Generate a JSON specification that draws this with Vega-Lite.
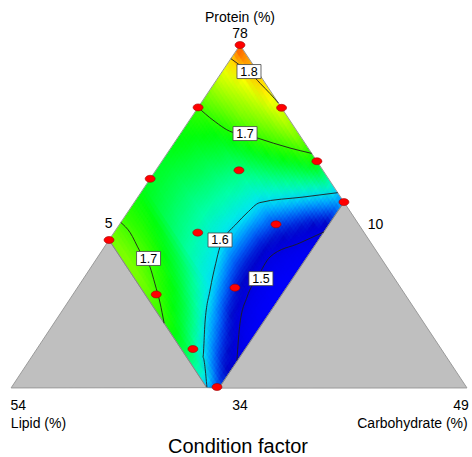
{
"$schema": "https://vega.github.io/schema/vega-lite/v6.json",
"width": 458, "height": 343,
"autosize": {"type": "none"},
"padding": {"left": 11, "top": 45, "right": 3, "bottom": 69},
"background": "white",
"config": {"view": {"stroke": null}},
"datasets": {
"grid": [
{"l":0.025,"c":0.025,"v":1.850},{"l":0.025,"c":0.075,"v":1.830},{"l":0.025,"c":0.125,"v":1.817},{"l":0.025,"c":0.175,"v":1.804},{"l":0.025,"c":0.225,"v":1.792},{"l":0.025,"c":0.275,"v":1.782},{"l":0.025,"c":0.325,"v":1.771},{"l":0.025,"c":0.375,"v":1.760},{"l":0.025,"c":0.425,"v":1.749},{"l":0.025,"c":0.475,"v":1.739},{"l":0.025,"c":0.525,"v":1.728},{"l":0.025,"c":0.575,"v":1.717},{"l":0.025,"c":0.625,"v":1.706},{"l":0.025,"c":0.675,"v":1.692},{"l":0.025,"c":0.725,"v":1.673},{"l":0.025,"c":0.775,"v":1.653},{"l":0.025,"c":0.825,"v":1.634},{"l":0.025,"c":0.875,"v":1.615},{"l":0.025,"c":0.925,"v":1.595},{"l":0.025,"c":0.975,"v":1.575},
{"l":0.075,"c":0.025,"v":1.793},{"l":0.075,"c":0.075,"v":1.784},{"l":0.075,"c":0.125,"v":1.775},{"l":0.075,"c":0.175,"v":1.767},{"l":0.075,"c":0.225,"v":1.758},{"l":0.075,"c":0.275,"v":1.749},{"l":0.075,"c":0.325,"v":1.741},{"l":0.075,"c":0.375,"v":1.732},{"l":0.075,"c":0.425,"v":1.724},{"l":0.075,"c":0.475,"v":1.715},{"l":0.075,"c":0.525,"v":1.706},{"l":0.075,"c":0.575,"v":1.695},{"l":0.075,"c":0.625,"v":1.679},{"l":0.075,"c":0.675,"v":1.662},{"l":0.075,"c":0.725,"v":1.646},{"l":0.075,"c":0.775,"v":1.629},{"l":0.075,"c":0.825,"v":1.612},{"l":0.075,"c":0.875,"v":1.594},{"l":0.075,"c":0.925,"v":1.573},{"l":0.075,"c":0.975,"v":1.551},
{"l":0.125,"c":0.025,"v":1.766},{"l":0.125,"c":0.075,"v":1.759},{"l":0.125,"c":0.125,"v":1.751},{"l":0.125,"c":0.175,"v":1.744},{"l":0.125,"c":0.225,"v":1.736},{"l":0.125,"c":0.275,"v":1.729},{"l":0.125,"c":0.325,"v":1.721},{"l":0.125,"c":0.375,"v":1.714},{"l":0.125,"c":0.425,"v":1.706},{"l":0.125,"c":0.475,"v":1.698},{"l":0.125,"c":0.525,"v":1.683},{"l":0.125,"c":0.575,"v":1.669},{"l":0.125,"c":0.625,"v":1.654},{"l":0.125,"c":0.675,"v":1.639},{"l":0.125,"c":0.725,"v":1.625},{"l":0.125,"c":0.775,"v":1.610},{"l":0.125,"c":0.825,"v":1.593},{"l":0.125,"c":0.875,"v":1.571},{"l":0.125,"c":0.925,"v":1.549},{"l":0.125,"c":0.975,"v":1.526},
{"l":0.175,"c":0.025,"v":1.747},{"l":0.175,"c":0.075,"v":1.740},{"l":0.175,"c":0.125,"v":1.733},{"l":0.175,"c":0.175,"v":1.726},{"l":0.175,"c":0.225,"v":1.720},{"l":0.175,"c":0.275,"v":1.713},{"l":0.175,"c":0.325,"v":1.706},{"l":0.175,"c":0.375,"v":1.698},{"l":0.175,"c":0.425,"v":1.686},{"l":0.175,"c":0.475,"v":1.673},{"l":0.175,"c":0.525,"v":1.660},{"l":0.175,"c":0.575,"v":1.647},{"l":0.175,"c":0.625,"v":1.634},{"l":0.175,"c":0.675,"v":1.621},{"l":0.175,"c":0.725,"v":1.608},{"l":0.175,"c":0.775,"v":1.592},{"l":0.175,"c":0.825,"v":1.570},{"l":0.175,"c":0.875,"v":1.548},{"l":0.175,"c":0.925,"v":1.526},{"l":0.175,"c":0.975,"v":1.504},
{"l":0.225,"c":0.025,"v":1.727},{"l":0.225,"c":0.075,"v":1.721},{"l":0.225,"c":0.125,"v":1.715},{"l":0.225,"c":0.175,"v":1.709},{"l":0.225,"c":0.225,"v":1.703},{"l":0.225,"c":0.275,"v":1.695},{"l":0.225,"c":0.325,"v":1.684},{"l":0.225,"c":0.375,"v":1.673},{"l":0.225,"c":0.425,"v":1.662},{"l":0.225,"c":0.475,"v":1.651},{"l":0.225,"c":0.525,"v":1.640},{"l":0.225,"c":0.575,"v":1.629},{"l":0.225,"c":0.625,"v":1.618},{"l":0.225,"c":0.675,"v":1.607},{"l":0.225,"c":0.725,"v":1.592},{"l":0.225,"c":0.775,"v":1.572},{"l":0.225,"c":0.825,"v":1.551},{"l":0.225,"c":0.875,"v":1.531},{"l":0.225,"c":0.925,"v":1.510},{"l":0.225,"c":0.975,"v":1.490},
{"l":0.275,"c":0.025,"v":1.712},{"l":0.275,"c":0.075,"v":1.706},{"l":0.275,"c":0.125,"v":1.699},{"l":0.275,"c":0.175,"v":1.690},{"l":0.275,"c":0.225,"v":1.680},{"l":0.275,"c":0.275,"v":1.671},{"l":0.275,"c":0.325,"v":1.662},{"l":0.275,"c":0.375,"v":1.652},{"l":0.275,"c":0.425,"v":1.643},{"l":0.275,"c":0.475,"v":1.633},{"l":0.275,"c":0.525,"v":1.624},{"l":0.275,"c":0.575,"v":1.615},{"l":0.275,"c":0.625,"v":1.605},{"l":0.275,"c":0.675,"v":1.592},{"l":0.275,"c":0.725,"v":1.573},{"l":0.275,"c":0.775,"v":1.554},{"l":0.275,"c":0.825,"v":1.535},{"l":0.275,"c":0.875,"v":1.516},{"l":0.275,"c":0.925,"v":1.497},{"l":0.275,"c":0.975,"v":1.476},
{"l":0.325,"c":0.025,"v":1.696},{"l":0.325,"c":0.075,"v":1.688},{"l":0.325,"c":0.125,"v":1.679},{"l":0.325,"c":0.175,"v":1.671},{"l":0.325,"c":0.225,"v":1.663},{"l":0.325,"c":0.275,"v":1.654},{"l":0.325,"c":0.325,"v":1.646},{"l":0.325,"c":0.375,"v":1.638},{"l":0.325,"c":0.425,"v":1.629},{"l":0.325,"c":0.475,"v":1.621},{"l":0.325,"c":0.525,"v":1.613},{"l":0.325,"c":0.575,"v":1.604},{"l":0.325,"c":0.625,"v":1.591},{"l":0.325,"c":0.675,"v":1.574},{"l":0.325,"c":0.725,"v":1.556},{"l":0.325,"c":0.775,"v":1.539},{"l":0.325,"c":0.825,"v":1.522},{"l":0.325,"c":0.875,"v":1.504},{"l":0.325,"c":0.925,"v":1.485},{"l":0.325,"c":0.975,"v":1.465},
{"l":0.375,"c":0.025,"v":1.686},{"l":0.375,"c":0.075,"v":1.678},{"l":0.375,"c":0.125,"v":1.671},{"l":0.375,"c":0.175,"v":1.663},{"l":0.375,"c":0.225,"v":1.655},{"l":0.375,"c":0.275,"v":1.648},{"l":0.375,"c":0.325,"v":1.640},{"l":0.375,"c":0.375,"v":1.632},{"l":0.375,"c":0.425,"v":1.625},{"l":0.375,"c":0.475,"v":1.617},{"l":0.375,"c":0.525,"v":1.609},{"l":0.375,"c":0.575,"v":1.602},{"l":0.375,"c":0.625,"v":1.585},{"l":0.375,"c":0.675,"v":1.567},{"l":0.375,"c":0.725,"v":1.549},{"l":0.375,"c":0.775,"v":1.530},{"l":0.375,"c":0.825,"v":1.512},{"l":0.375,"c":0.875,"v":1.493},{"l":0.375,"c":0.925,"v":1.475},{"l":0.375,"c":0.975,"v":1.457},
{"l":0.425,"c":0.025,"v":1.676},{"l":0.425,"c":0.075,"v":1.669},{"l":0.425,"c":0.125,"v":1.662},{"l":0.425,"c":0.175,"v":1.655},{"l":0.425,"c":0.225,"v":1.648},{"l":0.425,"c":0.275,"v":1.641},{"l":0.425,"c":0.325,"v":1.634},{"l":0.425,"c":0.375,"v":1.627},{"l":0.425,"c":0.425,"v":1.620},{"l":0.425,"c":0.475,"v":1.613},{"l":0.425,"c":0.525,"v":1.606},{"l":0.425,"c":0.575,"v":1.598},{"l":0.425,"c":0.625,"v":1.579},{"l":0.425,"c":0.675,"v":1.559},{"l":0.425,"c":0.725,"v":1.540},{"l":0.425,"c":0.775,"v":1.521},{"l":0.425,"c":0.825,"v":1.502},{"l":0.425,"c":0.875,"v":1.485},{"l":0.425,"c":0.925,"v":1.468},{"l":0.425,"c":0.975,"v":1.451},
{"l":0.475,"c":0.025,"v":1.672},{"l":0.475,"c":0.075,"v":1.665},{"l":0.475,"c":0.125,"v":1.658},{"l":0.475,"c":0.175,"v":1.651},{"l":0.475,"c":0.225,"v":1.645},{"l":0.475,"c":0.275,"v":1.638},{"l":0.475,"c":0.325,"v":1.631},{"l":0.475,"c":0.375,"v":1.624},{"l":0.475,"c":0.425,"v":1.618},{"l":0.475,"c":0.475,"v":1.611},{"l":0.475,"c":0.525,"v":1.604},{"l":0.475,"c":0.575,"v":1.593},{"l":0.475,"c":0.625,"v":1.575},{"l":0.475,"c":0.675,"v":1.557},{"l":0.475,"c":0.725,"v":1.538},{"l":0.475,"c":0.775,"v":1.520},{"l":0.475,"c":0.825,"v":1.502},{"l":0.475,"c":0.875,"v":1.484},{"l":0.475,"c":0.925,"v":1.466},{"l":0.475,"c":0.975,"v":1.449},
{"l":0.525,"c":0.025,"v":1.667},{"l":0.525,"c":0.075,"v":1.660},{"l":0.525,"c":0.125,"v":1.654},{"l":0.525,"c":0.175,"v":1.648},{"l":0.525,"c":0.225,"v":1.641},{"l":0.525,"c":0.275,"v":1.635},{"l":0.525,"c":0.325,"v":1.629},{"l":0.525,"c":0.375,"v":1.622},{"l":0.525,"c":0.425,"v":1.616},{"l":0.525,"c":0.475,"v":1.609},{"l":0.525,"c":0.525,"v":1.603},{"l":0.525,"c":0.575,"v":1.591},{"l":0.525,"c":0.625,"v":1.573},{"l":0.525,"c":0.675,"v":1.555},{"l":0.525,"c":0.725,"v":1.537},{"l":0.525,"c":0.775,"v":1.520},{"l":0.525,"c":0.825,"v":1.502},{"l":0.525,"c":0.875,"v":1.484},{"l":0.525,"c":0.925,"v":1.466},{"l":0.525,"c":0.975,"v":1.449},
{"l":0.575,"c":0.025,"v":1.662},{"l":0.575,"c":0.075,"v":1.656},{"l":0.575,"c":0.125,"v":1.650},{"l":0.575,"c":0.175,"v":1.644},{"l":0.575,"c":0.225,"v":1.638},{"l":0.575,"c":0.275,"v":1.632},{"l":0.575,"c":0.325,"v":1.626},{"l":0.575,"c":0.375,"v":1.620},{"l":0.575,"c":0.425,"v":1.614},{"l":0.575,"c":0.475,"v":1.609},{"l":0.575,"c":0.525,"v":1.603},{"l":0.575,"c":0.575,"v":1.590},{"l":0.575,"c":0.625,"v":1.573},{"l":0.575,"c":0.675,"v":1.556},{"l":0.575,"c":0.725,"v":1.539},{"l":0.575,"c":0.775,"v":1.522},{"l":0.575,"c":0.825,"v":1.504},{"l":0.575,"c":0.875,"v":1.487},{"l":0.575,"c":0.925,"v":1.469},{"l":0.575,"c":0.975,"v":1.452},
{"l":0.625,"c":0.025,"v":1.660},{"l":0.625,"c":0.075,"v":1.655},{"l":0.625,"c":0.125,"v":1.649},{"l":0.625,"c":0.175,"v":1.644},{"l":0.625,"c":0.225,"v":1.638},{"l":0.625,"c":0.275,"v":1.633},{"l":0.625,"c":0.325,"v":1.627},{"l":0.625,"c":0.375,"v":1.622},{"l":0.625,"c":0.425,"v":1.616},{"l":0.625,"c":0.475,"v":1.611},{"l":0.625,"c":0.525,"v":1.605},{"l":0.625,"c":0.575,"v":1.600},{"l":0.625,"c":0.625,"v":1.581},{"l":0.625,"c":0.675,"v":1.563},{"l":0.625,"c":0.725,"v":1.545},{"l":0.625,"c":0.775,"v":1.527},{"l":0.625,"c":0.825,"v":1.509},{"l":0.625,"c":0.875,"v":1.492},{"l":0.625,"c":0.925,"v":1.475},{"l":0.625,"c":0.975,"v":1.458},
{"l":0.675,"c":0.025,"v":1.660},{"l":0.675,"c":0.075,"v":1.655},{"l":0.675,"c":0.125,"v":1.650},{"l":0.675,"c":0.175,"v":1.645},{"l":0.675,"c":0.225,"v":1.639},{"l":0.675,"c":0.275,"v":1.634},{"l":0.675,"c":0.325,"v":1.629},{"l":0.675,"c":0.375,"v":1.624},{"l":0.675,"c":0.425,"v":1.618},{"l":0.675,"c":0.475,"v":1.613},{"l":0.675,"c":0.525,"v":1.608},{"l":0.675,"c":0.575,"v":1.603},{"l":0.675,"c":0.625,"v":1.592},{"l":0.675,"c":0.675,"v":1.573},{"l":0.675,"c":0.725,"v":1.555},{"l":0.675,"c":0.775,"v":1.536},{"l":0.675,"c":0.825,"v":1.518},{"l":0.675,"c":0.875,"v":1.499},{"l":0.675,"c":0.925,"v":1.484},{"l":0.675,"c":0.975,"v":1.468},
{"l":0.725,"c":0.025,"v":1.664},{"l":0.725,"c":0.075,"v":1.659},{"l":0.725,"c":0.125,"v":1.654},{"l":0.725,"c":0.175,"v":1.648},{"l":0.725,"c":0.225,"v":1.643},{"l":0.725,"c":0.275,"v":1.638},{"l":0.725,"c":0.325,"v":1.633},{"l":0.725,"c":0.375,"v":1.627},{"l":0.725,"c":0.425,"v":1.622},{"l":0.725,"c":0.475,"v":1.617},{"l":0.725,"c":0.525,"v":1.611},{"l":0.725,"c":0.575,"v":1.606},{"l":0.725,"c":0.625,"v":1.601},{"l":0.725,"c":0.675,"v":1.584},{"l":0.725,"c":0.725,"v":1.566},{"l":0.725,"c":0.775,"v":1.547},{"l":0.725,"c":0.825,"v":1.529},{"l":0.725,"c":0.875,"v":1.511},{"l":0.725,"c":0.925,"v":1.495},{"l":0.725,"c":0.975,"v":1.482},
{"l":0.775,"c":0.025,"v":1.675},{"l":0.775,"c":0.075,"v":1.674},{"l":0.775,"c":0.125,"v":1.672},{"l":0.775,"c":0.175,"v":1.669},{"l":0.775,"c":0.225,"v":1.665},{"l":0.775,"c":0.275,"v":1.660},{"l":0.775,"c":0.325,"v":1.654},{"l":0.775,"c":0.375,"v":1.648},{"l":0.775,"c":0.425,"v":1.641},{"l":0.775,"c":0.475,"v":1.634},{"l":0.775,"c":0.525,"v":1.626},{"l":0.775,"c":0.575,"v":1.618},{"l":0.775,"c":0.625,"v":1.609},{"l":0.775,"c":0.675,"v":1.598},{"l":0.775,"c":0.725,"v":1.580},{"l":0.775,"c":0.775,"v":1.563},{"l":0.775,"c":0.825,"v":1.546},{"l":0.775,"c":0.875,"v":1.529},{"l":0.775,"c":0.925,"v":1.512},{"l":0.775,"c":0.975,"v":1.495},
{"l":0.825,"c":0.025,"v":1.686},{"l":0.825,"c":0.075,"v":1.686},{"l":0.825,"c":0.125,"v":1.685},{"l":0.825,"c":0.175,"v":1.683},{"l":0.825,"c":0.225,"v":1.680},{"l":0.825,"c":0.275,"v":1.676},{"l":0.825,"c":0.325,"v":1.670},{"l":0.825,"c":0.375,"v":1.664},{"l":0.825,"c":0.425,"v":1.657},{"l":0.825,"c":0.475,"v":1.649},{"l":0.825,"c":0.525,"v":1.640},{"l":0.825,"c":0.575,"v":1.631},{"l":0.825,"c":0.625,"v":1.621},{"l":0.825,"c":0.675,"v":1.611},{"l":0.825,"c":0.725,"v":1.594},{"l":0.825,"c":0.775,"v":1.577},{"l":0.825,"c":0.825,"v":1.560},{"l":0.825,"c":0.875,"v":1.543},{"l":0.825,"c":0.925,"v":1.527},{"l":0.825,"c":0.975,"v":1.512},
{"l":0.875,"c":0.025,"v":1.696},{"l":0.875,"c":0.075,"v":1.697},{"l":0.875,"c":0.125,"v":1.698},{"l":0.875,"c":0.175,"v":1.698},{"l":0.875,"c":0.225,"v":1.697},{"l":0.875,"c":0.275,"v":1.694},{"l":0.875,"c":0.325,"v":1.689},{"l":0.875,"c":0.375,"v":1.683},{"l":0.875,"c":0.425,"v":1.675},{"l":0.875,"c":0.475,"v":1.667},{"l":0.875,"c":0.525,"v":1.658},{"l":0.875,"c":0.575,"v":1.648},{"l":0.875,"c":0.625,"v":1.637},{"l":0.875,"c":0.675,"v":1.625},{"l":0.875,"c":0.725,"v":1.612},{"l":0.875,"c":0.775,"v":1.594},{"l":0.875,"c":0.825,"v":1.575},{"l":0.875,"c":0.875,"v":1.557},{"l":0.875,"c":0.925,"v":1.539},{"l":0.875,"c":0.975,"v":1.525},
{"l":0.925,"c":0.025,"v":1.706},{"l":0.925,"c":0.075,"v":1.707},{"l":0.925,"c":0.125,"v":1.708},{"l":0.925,"c":0.175,"v":1.708},{"l":0.925,"c":0.225,"v":1.707},{"l":0.925,"c":0.275,"v":1.704},{"l":0.925,"c":0.325,"v":1.701},{"l":0.925,"c":0.375,"v":1.695},{"l":0.925,"c":0.425,"v":1.688},{"l":0.925,"c":0.475,"v":1.680},{"l":0.925,"c":0.525,"v":1.671},{"l":0.925,"c":0.575,"v":1.661},{"l":0.925,"c":0.625,"v":1.650},{"l":0.925,"c":0.675,"v":1.638},{"l":0.925,"c":0.725,"v":1.625},{"l":0.925,"c":0.775,"v":1.611},{"l":0.925,"c":0.825,"v":1.596},{"l":0.925,"c":0.875,"v":1.578},{"l":0.925,"c":0.925,"v":1.561},{"l":0.925,"c":0.975,"v":1.544},
{"l":0.975,"c":0.025,"v":1.716},{"l":0.975,"c":0.075,"v":1.718},{"l":0.975,"c":0.125,"v":1.719},{"l":0.975,"c":0.175,"v":1.719},{"l":0.975,"c":0.225,"v":1.718},{"l":0.975,"c":0.275,"v":1.716},{"l":0.975,"c":0.325,"v":1.713},{"l":0.975,"c":0.375,"v":1.709},{"l":0.975,"c":0.425,"v":1.704},{"l":0.975,"c":0.475,"v":1.698},{"l":0.975,"c":0.525,"v":1.689},{"l":0.975,"c":0.575,"v":1.679},{"l":0.975,"c":0.625,"v":1.668},{"l":0.975,"c":0.675,"v":1.657},{"l":0.975,"c":0.725,"v":1.646},{"l":0.975,"c":0.775,"v":1.635},{"l":0.975,"c":0.825,"v":1.623},{"l":0.975,"c":0.875,"v":1.609},{"l":0.975,"c":0.925,"v":1.592},{"l":0.975,"c":0.975,"v":1.568}
],
"masks": [
{"k":"a","o":1,"l":-0.3,"c":0},{"k":"a","o":2,"l":2.2,"c":0},{"k":"a","o":3,"l":2.2,"c":-0.7},{"k":"a","o":4,"l":-0.3,"c":-0.7},
{"k":"b","o":1,"l":0,"c":-0.3},{"k":"b","o":2,"l":0,"c":2.6},{"k":"b","o":3,"l":-0.7,"c":2.6},{"k":"b","o":4,"l":-0.7,"c":-0.3}
],
"shapes": [
{"k":"left","o":1,"l":1.753,"c":0.007},{"k":"left","o":2,"l":1,"c":0},{"k":"left","o":3,"l":1,"c":0.94},
{"k":"right","o":1,"l":0,"c":1},{"k":"right","o":2,"l":0,"c":2.183},{"k":"right","o":3,"l":0.954,"c":1}
],
"outline": [
{"o":1,"l":0,"c":0},{"o":2,"l":1,"c":0},{"o":3,"l":1,"c":0.94},{"o":4,"l":0.954,"c":1},{"o":5,"l":0,"c":1}
],
"contours": [
{"k":"1.8","o":1,"l":0.07,"c":0},{"k":"1.8","o":2,"l":0.05,"c":0.07},{"k":"1.8","o":3,"l":0.033,"c":0.128},{"k":"1.8","o":4,"l":0.02,"c":0.22},{"k":"1.8","o":5,"l":0.008,"c":0.3},{"k":"1.8","o":6,"l":0,"c":0.37},
{"k":"1.7a","o":1,"l":0.32,"c":0},{"k":"1.7a","o":2,"l":0.295,"c":0.112},{"k":"1.7a","o":3,"l":0.243,"c":0.258},{"k":"1.7a","o":4,"l":0.206,"c":0.31},{"k":"1.7a","o":5,"l":0.171,"c":0.379},{"k":"1.7a","o":6,"l":0.07,"c":0.569},{"k":"1.7a","o":7,"l":0,"c":0.69},
{"k":"1.7b","o":1,"l":0.91,"c":0},{"k":"1.7b","o":2,"l":0.9,"c":0.075},{"k":"1.7b","o":3,"l":0.91,"c":0.186},{"k":"1.7b","o":4,"l":0.911,"c":0.282},{"k":"1.7b","o":5,"l":0.935,"c":0.36},{"k":"1.7b","o":6,"l":0.964,"c":0.446},{"k":"1.7b","o":7,"l":1,"c":0.53},
{"k":"1.6","o":1,"l":0,"c":0.94},{"k":"1.6","o":2,"l":0.145,"c":0.788},{"k":"1.6","o":3,"l":0.325,"c":0.6},{"k":"1.6","o":4,"l":0.4,"c":0.572},{"k":"1.6","o":5,"l":0.465,"c":0.557},{"k":"1.6","o":6,"l":0.56,"c":0.545},{"k":"1.6","o":7,"l":0.591,"c":0.552},{"k":"1.6","o":8,"l":0.65,"c":0.585},{"k":"1.6","o":9,"l":0.739,"c":0.643},{"k":"1.6","o":10,"l":0.842,"c":0.724},{"k":"1.6","o":11,"l":0.937,"c":0.824},{"k":"1.6","o":12,"l":0.998,"c":0.939},
{"k":"1.5","o":1,"l":0.153,"c":1},{"k":"1.5","o":2,"l":0.273,"c":0.921},{"k":"1.5","o":3,"l":0.424,"c":0.823},{"k":"1.5","o":4,"l":0.52,"c":0.828},{"k":"1.5","o":5,"l":0.615,"c":0.842},{"k":"1.5","o":6,"l":0.708,"c":0.892},{"k":"1.5","o":7,"l":0.814,"c":0.996}
],
"boxes": [
{"lab":"1.8","l":0.033,"c":0.128},{"lab":"1.7","l":0.206,"c":0.308},{"lab":"1.7","l":0.895,"c":0.248},{"lab":"1.6","l":0.573,"c":0.53},{"lab":"1.5","l":0.514,"c":0.849}
],
"design": [
{"l":0,"c":0},{"l":0.32,"c":0},{"l":0.686,"c":0},{"l":1,"c":0},{"l":0,"c":0.4},{"l":0,"c":0.74},{"l":0,"c":1},{"l":0.323,"c":0.397},{"l":0.64,"c":0.4},{"l":0.318,"c":0.747},{"l":0.637,"c":0.754},{"l":0.957,"c":0.4},{"l":0.955,"c":0.75},{"l":0.959,"c":0.987}
],
"labels": [
{"label":"Protein (%)","x":0.5,"y":1.0787},{"label":"78","x":0.5,"y":1.032},{"label":"5","x":0.213,"y":0.477},{"label":"10","x":0.796,"y":0.475},{"label":"54","x":0.016,"y":-0.0525},{"label":"Lipid (%)","x":0.06,"y":-0.105},{"label":"34","x":0.5,"y":-0.0525},{"label":"49","x":0.9825,"y":-0.0525},{"label":"Carbohydrate (%)","x":0.8766,"y":-0.105}
],
"title": [
{"label":"Condition factor","x":0.4956,"y":-0.172}
]
},
"encoding": {
"x": {"field":"x","type":"quantitative","scale":{"domain":[0,1],"nice":false,"zero":false},"axis":null},
"y": {"field":"y","type":"quantitative","scale":{"domain":[0,1],"nice":false,"zero":false},"axis":null}
},
"layer": [
{"data":{"name":"grid"},"transform":[{"calculate":"0.5 - 0.286*datum.l + 0.227*datum.c","as":"x"},{"calculate":"1 - 0.5685*datum.l - 0.458*datum.c","as":"y"}],
"mark":{"type":"point","shape":"M0.675,-8.8L5.875,-0.95L-0.675,8.8L-5.875,0.95Z","size":4.5,"filled":true,"opacity":1,"strokeWidth":0,"clip":true},
"encoding":{"color":{"field":"v","type":"quantitative","legend":null,"scale":{"interpolate":"rgb","domain":[1.44,1.475,1.5,1.525,1.545,1.565,1.585,1.6,1.62,1.645,1.67,1.695,1.72,1.75,1.775,1.8,1.835,1.87],"range":["#0000ff","#0000f4","#0000e8","#0008c8","#0038e8","#0078ff","#00b8ff","#00e8f8","#00ffb0","#00ff58","#00ff10","#30ff00","#80ff00","#c8ff00","#ffff00","#ffd000","#ff9000","#ff4800"]}}}},
{"data":{"name":"grid"},"transform":[{"calculate":"0.5 - 0.286*(datum.l-0.0167) + 0.227*(datum.c-0.0167)","as":"x"},{"calculate":"1 - 0.5685*(datum.l-0.0167) - 0.458*(datum.c-0.0167)","as":"y"}],
"mark":{"type":"point","shape":"M0.675,-8.8L5.875,-0.95L-0.675,8.8L-5.875,0.95Z","size":4.5,"filled":true,"opacity":0.5,"strokeWidth":0,"clip":true},
"encoding":{"color":{"field":"v","type":"quantitative","legend":null}}},
{"data":{"name":"grid"},"transform":[{"calculate":"0.5 - 0.286*(datum.l+0.0167) + 0.227*(datum.c+0.0167)","as":"x"},{"calculate":"1 - 0.5685*(datum.l+0.0167) - 0.458*(datum.c+0.0167)","as":"y"}],
"mark":{"type":"point","shape":"M0.675,-8.8L5.875,-0.95L-0.675,8.8L-5.875,0.95Z","size":4.5,"filled":true,"opacity":0.3333,"strokeWidth":0,"clip":true},
"encoding":{"color":{"field":"v","type":"quantitative","legend":null}}},
{"data":{"name":"grid"},"transform":[{"calculate":"0.5 - 0.286*(datum.l-0.0167) + 0.227*(datum.c+0.0167)","as":"x"},{"calculate":"1 - 0.5685*(datum.l-0.0167) - 0.458*(datum.c+0.0167)","as":"y"}],
"mark":{"type":"point","shape":"M0.675,-8.8L5.875,-0.95L-0.675,8.8L-5.875,0.95Z","size":4.5,"filled":true,"opacity":0.25,"strokeWidth":0,"clip":true},
"encoding":{"color":{"field":"v","type":"quantitative","legend":null}}},
{"data":{"name":"grid"},"transform":[{"calculate":"0.5 - 0.286*(datum.l+0.0167) + 0.227*(datum.c-0.0167)","as":"x"},{"calculate":"1 - 0.5685*(datum.l+0.0167) - 0.458*(datum.c-0.0167)","as":"y"}],
"mark":{"type":"point","shape":"M0.675,-8.8L5.875,-0.95L-0.675,8.8L-5.875,0.95Z","size":4.5,"filled":true,"opacity":0.2,"strokeWidth":0,"clip":true},
"encoding":{"color":{"field":"v","type":"quantitative","legend":null}}},
{"data":{"name":"grid"},"transform":[{"calculate":"0.5 - 0.286*(datum.l-0.0167) + 0.227*datum.c","as":"x"},{"calculate":"1 - 0.5685*(datum.l-0.0167) - 0.458*datum.c","as":"y"}],
"mark":{"type":"point","shape":"M0.675,-8.8L5.875,-0.95L-0.675,8.8L-5.875,0.95Z","size":4.5,"filled":true,"opacity":0.1667,"strokeWidth":0,"clip":true},
"encoding":{"color":{"field":"v","type":"quantitative","legend":null}}},
{"data":{"name":"grid"},"transform":[{"calculate":"0.5 - 0.286*(datum.l+0.0167) + 0.227*datum.c","as":"x"},{"calculate":"1 - 0.5685*(datum.l+0.0167) - 0.458*datum.c","as":"y"}],
"mark":{"type":"point","shape":"M0.675,-8.8L5.875,-0.95L-0.675,8.8L-5.875,0.95Z","size":4.5,"filled":true,"opacity":0.1429,"strokeWidth":0,"clip":true},
"encoding":{"color":{"field":"v","type":"quantitative","legend":null}}},
{"data":{"name":"grid"},"transform":[{"calculate":"0.5 - 0.286*datum.l + 0.227*(datum.c-0.0167)","as":"x"},{"calculate":"1 - 0.5685*datum.l - 0.458*(datum.c-0.0167)","as":"y"}],
"mark":{"type":"point","shape":"M0.675,-8.8L5.875,-0.95L-0.675,8.8L-5.875,0.95Z","size":4.5,"filled":true,"opacity":0.125,"strokeWidth":0,"clip":true},
"encoding":{"color":{"field":"v","type":"quantitative","legend":null}}},
{"data":{"name":"grid"},"transform":[{"calculate":"0.5 - 0.286*datum.l + 0.227*(datum.c+0.0167)","as":"x"},{"calculate":"1 - 0.5685*datum.l - 0.458*(datum.c+0.0167)","as":"y"}],
"mark":{"type":"point","shape":"M0.675,-8.8L5.875,-0.95L-0.675,8.8L-5.875,0.95Z","size":4.5,"filled":true,"opacity":0.1111,"strokeWidth":0,"clip":true},
"encoding":{"color":{"field":"v","type":"quantitative","legend":null}}},
{"data":{"name":"masks"},"transform":[{"calculate":"0.5 - 0.286*datum.l + 0.227*datum.c","as":"x"},{"calculate":"1 - 0.5685*datum.l - 0.458*datum.c","as":"y"}],
"mark":{"type":"line","interpolate":"linear-closed","fill":"white","stroke":"white","strokeWidth":0.5},
"encoding":{"detail":{"field":"k"},"order":{"field":"o","type":"quantitative"}}},
{"data":{"name":"shapes"},"transform":[{"calculate":"0.5 - 0.286*datum.l + 0.227*datum.c","as":"x"},{"calculate":"1 - 0.5685*datum.l - 0.458*datum.c","as":"y"}],
"mark":{"type":"line","interpolate":"linear-closed","fill":"#bfbfbf","stroke":"#9a9a9a","strokeWidth":1},
"encoding":{"detail":{"field":"k"},"order":{"field":"o","type":"quantitative"}}},
{"data":{"name":"outline"},"transform":[{"calculate":"0.5 - 0.286*datum.l + 0.227*datum.c","as":"x"},{"calculate":"1 - 0.5685*datum.l - 0.458*datum.c","as":"y"}],
"mark":{"type":"line","interpolate":"linear-closed","stroke":"#808080","strokeWidth":0.8},
"encoding":{"order":{"field":"o","type":"quantitative"}}},
{"data":{"name":"contours"},"transform":[{"calculate":"0.5 - 0.286*datum.l + 0.227*datum.c","as":"x"},{"calculate":"1 - 0.5685*datum.l - 0.458*datum.c","as":"y"}],
"mark":{"type":"line","stroke":"#1e1e1e","strokeWidth":0.9,"interpolate":"monotone"},
"encoding":{"detail":{"field":"k"},"order":{"field":"o","type":"quantitative"}}},
{"data":{"name":"boxes"},"transform":[{"calculate":"0.5 - 0.286*datum.l + 0.227*datum.c","as":"x"},{"calculate":"1 - 0.5685*datum.l - 0.458*datum.c","as":"y"}],
"mark":{"type":"point","shape":"M-12,-7L12,-7L12,7L-12,7Z","size":4,"filled":true,"color":"white","stroke":"#444444","strokeWidth":0.8,"opacity":1}},
{"data":{"name":"boxes"},"transform":[{"calculate":"0.5 - 0.286*datum.l + 0.227*datum.c","as":"x"},{"calculate":"1 - 0.5685*datum.l - 0.458*datum.c","as":"y"}],
"mark":{"type":"text","font":"Liberation Sans","fontSize":12.5,"color":"black","align":"center","baseline":"middle","dy":0.5},
"encoding":{"text":{"field":"lab"}}},
{"data":{"name":"design"},"transform":[{"calculate":"0.5 - 0.286*datum.l + 0.227*datum.c","as":"x"},{"calculate":"1 - 0.5685*datum.l - 0.458*datum.c","as":"y"}],
"mark":{"type":"point","shape":"M-1,0A1,0.7,0,1,1,1,0A1,0.7,0,1,1,-1,0Z","size":100,"filled":true,"color":"#ff0000","stroke":"#a00000","strokeWidth":0.6,"opacity":1}},
{"data":{"name":"labels"},
"mark":{"type":"text","font":"Liberation Sans","fontSize":14,"color":"black","align":"center","baseline":"middle"},
"encoding":{"text":{"field":"label"}}},
{"data":{"name":"title"},
"mark":{"type":"text","font":"Liberation Sans","fontSize":20,"color":"black","align":"center","baseline":"middle"},
"encoding":{"text":{"field":"label"}}}
]
}
